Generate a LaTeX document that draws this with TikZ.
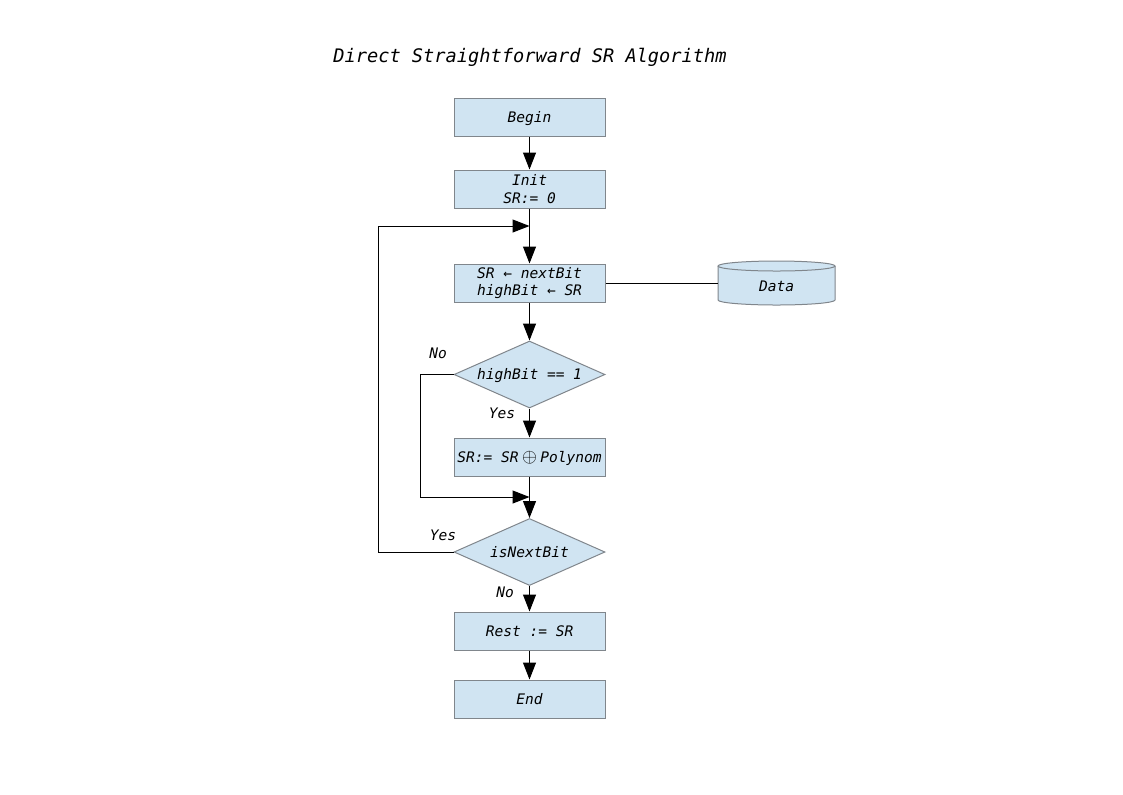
\documentclass[tikz,border=0pt]{standalone}
\usepackage{fontspec}
\setmonofont{DejaVu Sans Mono}
\usetikzlibrary{arrows.meta,shapes.geometric}
\definecolor{boxfill}{RGB}{208,228,242}
\definecolor{boxline}{RGB}{128,134,140}
\begin{document}
\begin{tikzpicture}[x=0.75pt,y=-0.75pt,
  every node/.style={font=\fontsize{10.9}{13}\selectfont\ttfamily\itshape},
  oneline/.style={text height=8.5pt,text depth=0.6pt},
  stepbox/.style={draw=boxline,fill=boxfill,line width=0.75pt,minimum width=151*0.75pt,minimum height=38*0.75pt,inner sep=0pt,align=center},
  decision/.style={draw=boxline,fill=boxfill,line width=0.75pt,diamond,aspect=2.25,minimum width=151*0.75pt,minimum height=67*0.75pt,inner sep=0pt,oneline},
  flow/.style={line width=0.75pt,-{Triangle[width=13*0.75pt,length=17*0.75pt]}},
  link/.style={line width=0.75pt},
  lbl/.style={inner sep=0pt}]
\useasboundingbox (0,0) rectangle (1123,794);

% title
\node[font=\fontsize{14}{16}\selectfont\ttfamily\itshape] (title) at (530,57) {Direct Straightforward SR Algorithm};

% process steps
\node[stepbox,oneline] (begin) at (529.5,117) {Begin};
\node[stepbox] (init) at (529.5,189) {Init\\SR:= 0};
\node[stepbox] (shift) at (529.5,283) {SR ← nextBit\\highBit ← SR};
\node[decision] (test) at (529.5,374.5) {highBit == 1};
\node[stepbox,oneline] (xor) at (529.5,457) {SR:= SR\hspace{2.5pt}{\fontsize{14}{14}\selectfont$\oplus$}\hspace{2.5pt}Polynom};
\node[decision] (more) at (529.5,552) {isNextBit};
\node[stepbox,oneline] (rest) at (529.5,631) {Rest := SR};
\node[stepbox,oneline] (end) at (529.5,699) {End};

% data store
\node[minimum width=117*0.75pt,minimum height=44*0.75pt,inner sep=0pt] (data) at (776.5,283) {};
\fill[boxfill] (718,266) -- (718,300) arc[start angle=180,end angle=0,x radius=58.5,y radius=5] -- (835,266) arc[start angle=0,end angle=-180,x radius=58.5,y radius=5] -- cycle;
\draw[boxline,line width=0.75pt] (718,266) -- (718,300) arc[start angle=180,end angle=0,x radius=58.5,y radius=5] -- (835,266);
\draw[boxline,line width=0.75pt] (776.5,266) ellipse[x radius=58.5,y radius=5];
\node at (776.5,286) {Data};

% junction points of the loops
\coordinate (j1) at (529.5,226);
\coordinate (j2) at (529.5,497);

% connectors
\draw[flow] (begin) -- (init);
\draw[link] (init) -- (j1);
\draw[flow] (j1) -- (shift);
\draw[link] (shift) -- (data);
\draw[flow] (shift) -- (test);
\draw[flow] (test) -- (xor);
\draw[link] (xor) -- (j2);
\draw[flow] (j2) -- (more);
\draw[flow] (test.west) -- (420,374.5) -- (420,497) -- (j2);
\draw[flow] (more.west) -- (378,552) -- (378,226) -- (j1);
\draw[flow] (more) -- (rest);
\draw[flow] (rest) -- (end);

% branch labels
\node[lbl] (no1) at (438,353) {No};
\node[lbl] (yes1) at (502,413) {Yes};
\node[lbl] (yes2) at (443,535) {Yes};
\node[lbl] (no2) at (505,592) {No};
\end{tikzpicture}
\end{document}
